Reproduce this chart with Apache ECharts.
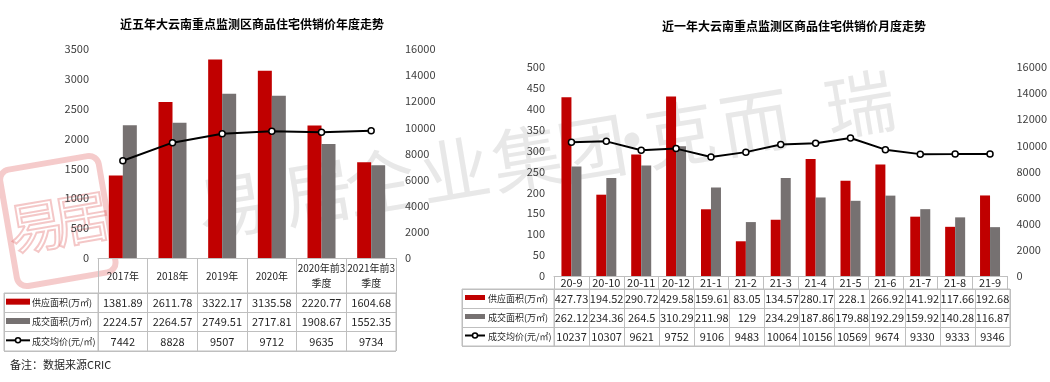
<!DOCTYPE html>
<html>
<head>
<meta charset="utf-8">
<script src="https://cdn.jsdelivr.net/npm/echarts@6/dist/echarts.min.js"></script>
<style>html,body{margin:0;padding:0;background:#fff}#c{width:1050px;height:382px}</style>
</head>
<body>
<div id="c"></div>
<script>
// ---------- data ----------
const yearCats = ['2017年', '2018年', '2019年', '2020年', '2020年前3\n季度', '2021年前3\n季度'];
const yearSupply = [1381.89, 2611.78, 3322.17, 3135.58, 2220.77, 1604.68];
const yearDeal = [2224.57, 2264.57, 2749.51, 2717.81, 1908.67, 1552.35];
const yearPrice = [7442, 8828, 9507, 9712, 9635, 9734];

const monthCats = ['20-9', '20-10', '20-11', '20-12', '21-1', '21-2', '21-3', '21-4', '21-5', '21-6', '21-7', '21-8', '21-9'];
const monthSupply = [427.73, 194.52, 290.72, 429.58, 159.61, 83.05, 134.57, 280.17, 228.1, 266.92, 141.92, 117.66, 192.68];
const monthDeal = [262.12, 234.36, 264.5, 310.29, 211.98, 129, 234.29, 187.86, 179.88, 192.29, 159.92, 140.28, 116.87];
const monthPrice = [10237, 10307, 9621, 9752, 9106, 9483, 10064, 10156, 10569, 9674, 9330, 9333, 9346];

const rowNames = ['供应面积(万㎡)', '成交面积(万㎡)', '成交均价(元/㎡)'];
const leftTitle = '近五年大云南重点监测区商品住宅供销价年度走势';
const rightTitle = '近一年大云南重点监测区商品住宅供销价月度走势';
const note = '备注：数据来源CRIC';

// ---------- style ----------
const RED = '#C00000', GREY = '#767171', LINE = '#BFBFBF', TXT = '#262626';
const FONT = "'Noto Sans CJK SC', 'Noto Sans', sans-serif";
const NFONT = "'Liberation Sans Narrow', 'Noto Sans CJK SC', sans-serif";

const chart = echarts.init(document.getElementById('c'));

function cellSeries(xi, yi, rows) {
  const data = [], texts = [];
  rows.forEach((arr, r) => arr.forEach((v, i) => { data.push([i, r]); texts.push(String(v)); }));
  return {
    type: 'custom', xAxisIndex: xi, yAxisIndex: yi, data: data, silent: true, z: 5,
    renderItem: function (p, api) {
      const pt = api.coord([api.value(0), api.value(1)]);
      return { type: 'text', x: pt[0], y: pt[1],
        style: { text: texts[p.dataIndex], align: 'center', verticalAlign: 'middle', fill: TXT, font: '11px ' + NFONT } };
    }
  };
}
function headSeries(xi, yi, sw) {
  return {
    type: 'custom', xAxisIndex: xi, yAxisIndex: yi, data: [[0, 0], [0, 1], [0, 2]], silent: true, z: 5,
    renderItem: function (p, api) {
      const pt = api.coord([0, api.value(1)]);
      const x0 = p.coordSys.x;
      const ch = [];
      if (p.dataIndex < 2) {
        ch.push({ type: 'rect', shape: { x: x0 + sw.x, y: pt[1] - sw.h / 2 - 1, width: sw.w, height: sw.h },
          style: { fill: p.dataIndex === 0 ? RED : GREY } });
      } else {
        ch.push({ type: 'line', shape: { x1: x0 + sw.x, y1: pt[1] - 1, x2: x0 + sw.x + sw.w, y2: pt[1] - 1 },
          style: { stroke: '#000', lineWidth: 2 } });
        ch.push({ type: 'circle', shape: { cx: x0 + sw.x + sw.w / 2, cy: pt[1] - 1, r: 2.5 },
          style: { fill: '#fff', stroke: '#000', lineWidth: 1.5 } });
      }
      ch.push({ type: 'text', x: x0 + sw.tx, y: pt[1],
        style: { text: rowNames[p.dataIndex], align: 'left', verticalAlign: 'middle', fill: TXT, font: '9px ' + FONT } });
      return { type: 'group', children: ch };
    }
  };
}
const tableGrid = (l, t, w, h) => ({ left: l, top: t, width: w, height: h, show: true, borderColor: LINE, borderWidth: 1, backgroundColor: '#fff' });
const tableX = (g, d) => ({ type: 'category', gridIndex: g, data: d, axisLine: { show: false }, axisTick: { show: false }, axisLabel: { show: false },
  splitLine: { show: true, interval: 0, lineStyle: { color: LINE } } });
const tableY = (g) => ({ type: 'category', gridIndex: g, data: rowNames, inverse: true, axisLine: { show: false }, axisTick: { show: false }, axisLabel: { show: false },
  splitLine: { show: true, interval: 0, lineStyle: { color: LINE } } });
const valY = (g, max, iv, pos) => ({ type: 'value', gridIndex: g, min: 0, max: max, interval: iv, position: pos,
  axisLine: { show: false }, axisTick: { show: false }, splitLine: { show: false },
  axisLabel: { fontSize: 11, fontFamily: NFONT, color: '#404040', margin: 9, formatter: v => String(v) } });
const headX = (g, d, len, margin, fs) => ({ type: 'category', gridIndex: g, data: d,
  axisLine: { show: true, lineStyle: { color: LINE } },
  axisTick: { show: true, length: len, lineStyle: { color: LINE } },
  axisLabel: { interval: 0, margin: margin, verticalAlign: 'middle', lineHeight: 15, fontSize: fs, fontFamily: NFONT, color: TXT } });

// watermark chars (decorative)
const wmChars = [['易', 232, 205], ['居', 318, 192], ['企', 380, 182], ['业', 455, 170], ['集', 527, 158], ['团', 592, 148],
  ['·', 632, 140], ['克', 680, 134], ['而', 755, 122], ['瑞', 860, 104]];
const graphics = wmChars.map(c => ({ type: 'text', x: c[1], y: c[2], rotation: 0.165, z: -1,
  style: { text: c[0], fill: 'rgba(165,165,165,0.25)', font: '70px ' + FONT, align: 'center', verticalAlign: 'middle' } }));
graphics.push({ type: 'group', x: 58, y: 222, rotation: 0.17, z: -1, children: [
  { type: 'rect', shape: { x: -50, y: -60, width: 100, height: 118, r: 10 }, style: { fill: 'none', stroke: 'rgba(220,70,70,0.28)', lineWidth: 6 } },
  { type: 'text', x: -22, y: 0, style: { text: '易', fill: 'none', stroke: 'rgba(220,70,70,0.3)', lineWidth: 2, font: '56px ' + FONT, align: 'center', verticalAlign: 'middle' } },
  { type: 'text', x: 24, y: 0, style: { text: '居', fill: 'none', stroke: 'rgba(220,70,70,0.3)', lineWidth: 2, font: '56px ' + FONT, align: 'center', verticalAlign: 'middle' } }
] });
graphics.push({ type: 'text', left: 10, top: 359, style: { text: note, fill: TXT, font: '11px ' + FONT } });

chart.setOption({
  animation: false,
  textStyle: { fontFamily: FONT },
  title: [
    { text: leftTitle, left: 247, top: 13, textAlign: 'center', textStyle: { fontSize: 12, fontWeight: 'bold', color: '#000' } },
    { text: rightTitle, left: 789, top: 15, textAlign: 'center', textStyle: { fontSize: 12, fontWeight: 'bold', color: '#000' } }
  ],
  graphic: graphics,
  grid: [
    { left: 98, top: 49, width: 298, height: 209 },
    tableGrid(98, 293, 298, 58),
    tableGrid(4, 293, 94, 58),
    { left: 554, top: 67, width: 456, height: 209 },
    tableGrid(554, 289, 456, 57),
    tableGrid(462, 289, 92, 57)
  ],
  xAxis: [
    headX(0, yearCats, 35, 18, 10),
    tableX(1, yearCats),
    tableX(2, ['h']),
    headX(3, monthCats, 13, 7, 11),
    tableX(4, monthCats),
    tableX(5, ['h'])
  ],
  yAxis: [
    valY(0, 3500, 500, 'left'),
    valY(0, 16000, 2000, 'right'),
    tableY(1),
    tableY(2),
    valY(3, 500, 50, 'left'),
    valY(3, 16000, 2000, 'right'),
    tableY(4),
    tableY(5)
  ],
  series: [
    { type: 'bar', name: rowNames[0], xAxisIndex: 0, yAxisIndex: 0, data: yearSupply, barWidth: 14, barGap: '0%', itemStyle: { color: RED } },
    { type: 'bar', name: rowNames[1], xAxisIndex: 0, yAxisIndex: 0, data: yearDeal, barWidth: 14, barGap: '0%', itemStyle: { color: GREY } },
    { type: 'line', name: rowNames[2], xAxisIndex: 0, yAxisIndex: 1, data: yearPrice, symbol: 'circle', symbolSize: 6,
      lineStyle: { color: '#000', width: 2 }, itemStyle: { color: '#fff', borderColor: '#000', borderWidth: 1.5 }, z: 4 },
    cellSeries(1, 2, [yearSupply, yearDeal, yearPrice]),
    headSeries(2, 3, { x: 2, w: 24, h: 6, tx: 28 }),
    { type: 'bar', name: rowNames[0], xAxisIndex: 3, yAxisIndex: 4, data: monthSupply, barWidth: 10, barGap: '0%', itemStyle: { color: RED } },
    { type: 'bar', name: rowNames[1], xAxisIndex: 3, yAxisIndex: 4, data: monthDeal, barWidth: 10, barGap: '0%', itemStyle: { color: GREY } },
    { type: 'line', name: rowNames[2], xAxisIndex: 3, yAxisIndex: 5, data: monthPrice, symbol: 'circle', symbolSize: 6,
      lineStyle: { color: '#000', width: 2 }, itemStyle: { color: '#fff', borderColor: '#000', borderWidth: 1.5 }, z: 4 },
    cellSeries(4, 6, [monthSupply, monthDeal, monthPrice]),
    headSeries(5, 7, { x: 3, w: 20, h: 5, tx: 26 })
  ]
});
</script>
</body>
</html>
